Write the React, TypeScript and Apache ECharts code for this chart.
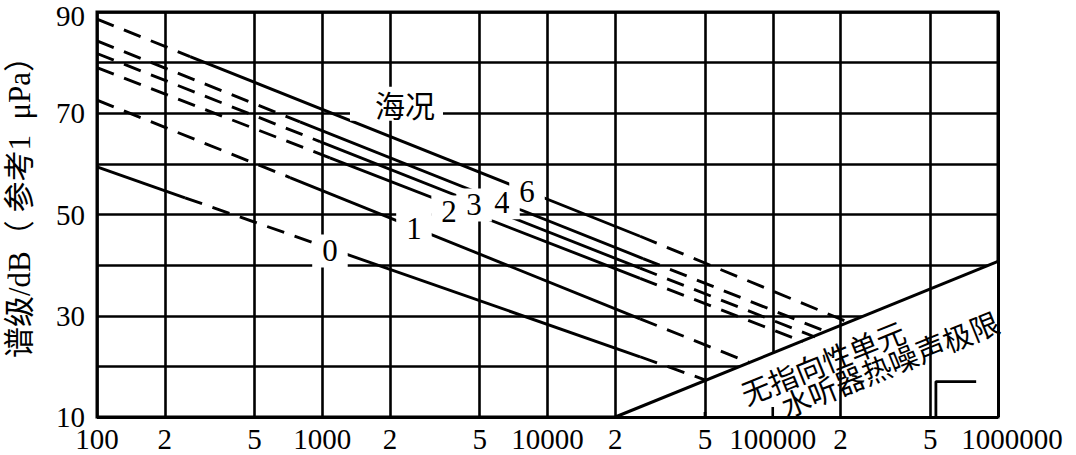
import React, { useEffect, useRef } from 'react';
import * as echarts from 'echarts';

// ---- axis ticks ----
const xMajorTicks = [100, 1000, 10000, 100000, 1000000];
const xMinorTicks = [200, 500, 2000, 5000, 20000, 50000, 200000, 500000];
const xMinorTickLabels = ['2', '5', '2', '5', '2', '5', '2', '5'];
const yLabelValues = [10, 30, 50, 70, 90];
const yAxisTitle = '谱级/dB（ 参考1  μPa）';

// ---- sea-state curves (breakpoints where the line style changes) ----
const seaStates = ['0', '1', '2', '3', '4', '6'];
const curveFreqs = [
  [100, 246, 1081, 25760, 51000],
  [100, 719, 25760, 79300],
  [100, 1081, 25760, 136000],
  [100, 977, 25760, 154000],
  [100, 796, 26550, 174000],
  [100, 259, 25760, 209000],
];
const curveLevels = [
  [59.4, 53.3, 43.3, 21.9, 17.2],
  [72.6, 57.3, 29.4, 20.7],
  [79.0, 61.2, 37.4, 24.9],
  [81.8, 64.4, 39.4, 25.8],
  [84.3, 68.3, 41.3, 26.8],
  [88.6, 81.2, 45.7, 29.0],
];
const curveKinds = [
  ['solid', 'dashed', 'solid', 'dashed'],
  ['dashed', 'solid', 'dashed'],
  ['dashed', 'solid', 'dashed'],
  ['dashed', 'solid', 'dashed'],
  ['dashed', 'solid', 'dashed'],
  ['dashed', 'solid', 'dashed'],
];
const seaStateLabelFreqs = [1082, 2553, 3656, 4721, 6280, 8110];
const seaStateLabelLevels = [42.8, 47.2, 50.5, 51.9, 52.3, 54.5];
const seaStateTitle = '海况';
const seaStateTitleFreq = 2136;
const seaStateTitleLevel = 71.9;

// ---- hydrophone thermal-noise limit ----
const thermalFreqs = [20000, 1000000];
const thermalLevels = [10, 40.75];
const thermalTexts = ['无指向性单元', '水听器热噪声极限'];
const thermalTextFreqs = [166400, 329600];
const thermalTextLevels = [21.0, 20.7];

// ---- small leftover marks near the bottom ----
const cornerFreqs = [530000, 530000, 800000];
const cornerLevels = [10, 17, 17];
const stubFreqs = [50000, 100000];
const stubTopLevels = [11, 12];

const SERIF = "'Liberation Serif', 'Times New Roman', serif";
const MIXED = "'Liberation Serif', 'Noto Sans CJK SC', serif";
const CJK = "'Noto Sans CJK SC', sans-serif";
const TICK_FONT = 29;

function buildOption() {
  const series: any[] = [];

  // minor vertical grid lines with their "2"/"5" labels
  series.push({
    type: 'line',
    data: [[100, 10]],
    symbol: 'none',
    lineStyle: { width: 0 },
    z: 1,
    clip: false,
    silent: true,
    markLine: {
      symbol: ['none', 'none'],
      silent: true,
      animation: false,
      emphasis: { disabled: true },
      lineStyle: { color: '#000', width: 2.6, type: 'solid' },
      label: {
        show: true,
        position: 'start',
        formatter: '{b}',
        distance: 11,
        fontSize: TICK_FONT,
        lineHeight: 22,
        fontFamily: SERIF,
        color: '#000',
      },
      data: xMinorTicks.map((v, i) => ({ xAxis: v, name: xMinorTickLabels[i] })),
    },
  });

  // thermal noise limit with white region below it
  series.push({
    type: 'line',
    data: thermalFreqs.map((f, i) => [f, thermalLevels[i]]),
    symbol: 'none',
    z: 3,
    silent: true,
    lineStyle: { color: '#000', width: 3 },
    areaStyle: { color: '#fff', opacity: 1, origin: 'start' },
  });

  // sea-state curves
  curveFreqs.forEach((freqs, i) => {
    for (let j = 0; j < freqs.length - 1; j++) {
      const kind = curveKinds[i][j];
      series.push({
        type: 'line',
        name: 'ss' + seaStates[i],
        data: [
          [freqs[j], curveLevels[i][j]],
          [freqs[j + 1], curveLevels[i][j + 1]],
        ],
        symbol: 'none',
        z: 4,
        silent: true,
        lineStyle: {
          color: '#000',
          width: 2.9,
          type: kind === 'solid' ? 'solid' : [18, 11],
        },
      });
    }
  });

  // leftover corner and stubs
  series.push({
    type: 'line',
    data: cornerFreqs.map((f, i) => [f, cornerLevels[i]]),
    symbol: 'none',
    z: 6,
    silent: true,
    lineStyle: { color: '#000', width: 2.8 },
  });
  stubFreqs.forEach((f, i) => {
    series.push({
      type: 'line',
      data: [
        [f, 10],
        [f, stubTopLevels[i]],
      ],
      symbol: 'none',
      z: 6,
      silent: true,
      lineStyle: { color: '#000', width: 2.6 },
    });
  });

  // bottom and right borders above the white region
  series.push({
    type: 'line',
    data: [[100, 10]],
    symbol: 'none',
    lineStyle: { width: 0 },
    z: 8,
    clip: false,
    silent: true,
    markLine: {
      symbol: ['none', 'none'],
      silent: true,
      animation: false,
      emphasis: { disabled: true },
      lineStyle: { color: '#000', width: 3, type: 'solid' },
      label: { show: false },
      data: [{ yAxis: 10 }, { xAxis: 1000000 }],
    },
  });

  const labelBase = {
    type: 'scatter',
    z: 9,
    symbolSize: 1,
    silent: true,
    itemStyle: { color: 'rgba(0,0,0,0)', opacity: 1 },
    emphasis: { disabled: true },
  };

  // curve labels
  series.push({
    ...labelBase,
    label: {
      show: true,
      position: 'inside',
      formatter: '{b}',
      fontSize: 31,
      fontFamily: SERIF,
      color: '#000',
      opacity: 1,
      backgroundColor: '#fff',
      padding: [1, 10],
    },
    data: seaStates.map((s, i) => ({
      name: s,
      value: [seaStateLabelFreqs[i], seaStateLabelLevels[i]],
    })),
  });

  series.push({
    ...labelBase,
    label: {
      show: true,
      position: 'inside',
      formatter: '{b}',
      fontSize: 30,
      fontFamily: CJK,
      color: '#000',
      opacity: 1,
      backgroundColor: '#fff',
      padding: [2, 8, 2, 25],
    },
    data: [{ name: seaStateTitle, value: [seaStateTitleFreq, seaStateTitleLevel] }],
  });

  series.push({
    ...labelBase,
    label: {
      show: true,
      position: 'inside',
      formatter: '{b}',
      rotate: 22,
      fontSize: 29,
      fontFamily: CJK,
      color: '#000',
      opacity: 1,
    },
    data: thermalTexts.map((t, i) => ({
      name: t,
      value: [thermalTextFreqs[i], thermalTextLevels[i]],
    })),
  });

  const yMax = yLabelValues[yLabelValues.length - 1];

  return {
    animation: false,
    backgroundColor: '#fff',
    grid: {
      left: 97,
      right: 78,
      top: 12,
      bottom: 38,
      show: true,
      borderColor: '#000',
      borderWidth: 3,
      backgroundColor: 'transparent',
      containLabel: false,
      outerBoundsMode: 'none',
    },
    xAxis: {
      type: 'log',
      logBase: 10,
      min: xMajorTicks[0],
      max: xMajorTicks[xMajorTicks.length - 1],
      axisLine: { show: false },
      axisTick: { show: false },
      splitLine: { show: true, lineStyle: { color: '#000', width: 2.6 } },
      axisLabel: {
        show: true,
        margin: 11,
        fontSize: TICK_FONT,
        lineHeight: 22,
        fontFamily: SERIF,
        color: '#000',
        formatter: (v: number) => {
          const r = Math.round(v);
          if (Math.abs(r - xMajorTicks[xMajorTicks.length - 1]) < 1) return '{r|' + r + '}';
          return String(r);
        },
        rich: {
          r: {
            fontSize: TICK_FONT,
            lineHeight: 22,
            fontFamily: SERIF,
            color: '#000',
            padding: [0, 0, 0, 28],
          },
        },
      },
    },
    yAxis: {
      type: 'value',
      min: 10,
      max: 90,
      interval: 10,
      axisLine: { show: false },
      axisTick: { show: false },
      splitLine: { show: true, lineStyle: { color: '#000', width: 2.6 } },
      axisLabel: {
        margin: 12,
        fontSize: TICK_FONT,
        lineHeight: 22,
        fontFamily: SERIF,
        color: '#000',
        formatter: (v: number) => {
          if (yLabelValues.indexOf(v) < 0) return '';
          if (v === yMax) return '{t|' + v + '}';
          return String(v);
        },
        rich: {
          t: {
            fontSize: TICK_FONT,
            lineHeight: 22,
            fontFamily: SERIF,
            color: '#000',
            padding: [8, 0, 0, 0],
          },
        },
      },
      name: yAxisTitle,
      nameLocation: 'middle',
      nameRotate: 90,
      nameGap: 62,
      nameTextStyle: {
        fontSize: 31,
        fontFamily: MIXED,
        color: '#000',
        padding: [0, 0, 0, 30],
      },
    },
    series,
  };
}

export default function App() {
  const ref = useRef<HTMLDivElement>(null);
  useEffect(() => {
    document.body.style.margin = '0';
    if (!ref.current) return;
    const chart = echarts.init(ref.current, undefined, { renderer: 'svg' });
    chart.setOption(buildOption() as any);
    return () => chart.dispose();
  }, []);
  return <div ref={ref} style={{ width: 1076, height: 455 }} />;
}
